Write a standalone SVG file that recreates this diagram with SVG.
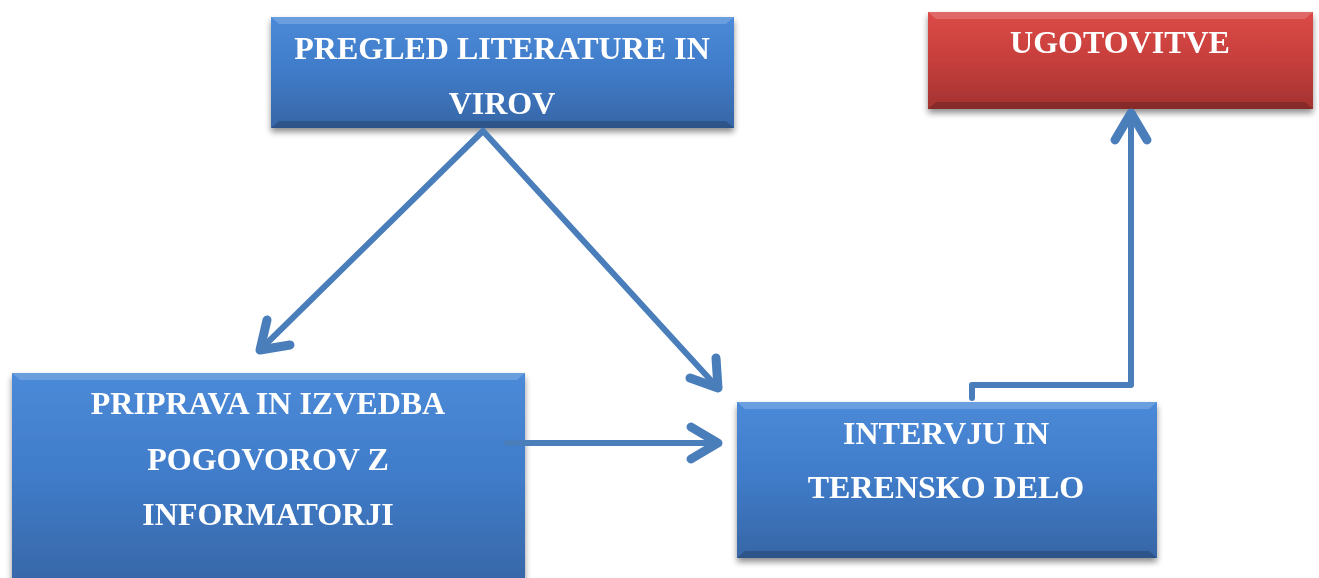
<svg xmlns="http://www.w3.org/2000/svg" width="1319" height="578" viewBox="0 0 1319 578">
<defs>
<linearGradient id="gb" x1="0" y1="0" x2="0" y2="1">
<stop offset="0" stop-color="#4b8ad8"/>
<stop offset="0.5" stop-color="#3f7bc8"/>
<stop offset="1" stop-color="#3766a6"/>
</linearGradient>
<linearGradient id="gr" x1="0" y1="0" x2="0" y2="1">
<stop offset="0" stop-color="#dc4a47"/>
<stop offset="0.5" stop-color="#c63f3c"/>
<stop offset="1" stop-color="#a33331"/>
</linearGradient>
<filter id="sh" x="-10%" y="-10%" width="120%" height="130%">
<feGaussianBlur in="SourceAlpha" stdDeviation="3"/>
<feOffset dx="0" dy="4" result="b"/>
<feComponentTransfer><feFuncA type="linear" slope="0.45"/></feComponentTransfer>
<feMerge><feMergeNode/><feMergeNode in="SourceGraphic"/></feMerge>
</filter>
</defs>
<style>
.t{font-family:"Liberation Serif","Times New Roman",serif;font-weight:bold;font-size:32px;fill:#ffffff;text-anchor:middle}
.c{fill:none;stroke:#4a7ebb;stroke-width:6;stroke-linecap:round;stroke-linejoin:round}
.h{fill:none;stroke:#4a7ebb;stroke-width:9;stroke-linecap:round;stroke-linejoin:round}
.edgeL{fill:#ffffff;opacity:0.18}
.edgeD{fill:#000000;opacity:0.18}
</style>
<g id="node-pregled" filter="url(#sh)">
<rect x="271" y="17" width="463" height="111" fill="url(#gb)"/>
<polygon class="edgeL" points="271,17 734,17 726,24 279,24"/>
<polygon class="edgeD" points="271,128 734,128 726,121 279,121"/>
<text class="t" x="502" y="59">PREGLED LITERATURE IN</text>
<text class="t" x="502" y="114">VIROV</text>
</g>
<g id="node-ugotovitve" filter="url(#sh)">
<rect x="928" y="12" width="385" height="97" fill="url(#gr)"/>
<polygon class="edgeL" points="928,12 1313,12 1305,19 936,19"/>
<polygon class="edgeD" points="928,109 1313,109 1305,102 936,102"/>
<text class="t" x="1120" y="53">UGOTOVITVE</text>
</g>
<g id="node-priprava" filter="url(#sh)">
<rect x="12" y="373" width="513" height="215" fill="url(#gb)"/>
<polygon class="edgeL" points="12,373 525,373 517,380 20,380"/>
<text class="t" x="268" y="414">PRIPRAVA IN IZVEDBA</text>
<text class="t" x="268" y="470">POGOVOROV Z</text>
<text class="t" x="268" y="525">INFORMATORJI</text>
</g>
<g id="node-intervju" filter="url(#sh)">
<rect x="737" y="402" width="420" height="156" fill="url(#gb)"/>
<polygon class="edgeL" points="737,402 1157,402 1149,409 745,409"/>
<polygon class="edgeD" points="737,558 1157,558 1149,551 745,551"/>
<text class="t" x="946" y="444">INTERVJU IN</text>
<text class="t" x="946" y="498">TERENSKO DELO</text>
</g>
<g id="connectors">
<line class="c" x1="483" y1="131" x2="261" y2="349"/>
<polyline class="h" points="267,320 260,350 290,345"/>
<line class="c" x1="483" y1="131" x2="717" y2="387"/>
<polyline class="h" points="690,378 718,388 716,358"/>
<line class="c" x1="507" y1="443" x2="716" y2="443"/>
<polyline class="h" points="691,427 718,443 691,459"/>
<polyline class="c" points="972,398 972,385 1131,385 1131,115"/>
<polyline class="h" points="1115,140 1131,113 1147,140"/>
</g>
</svg>
